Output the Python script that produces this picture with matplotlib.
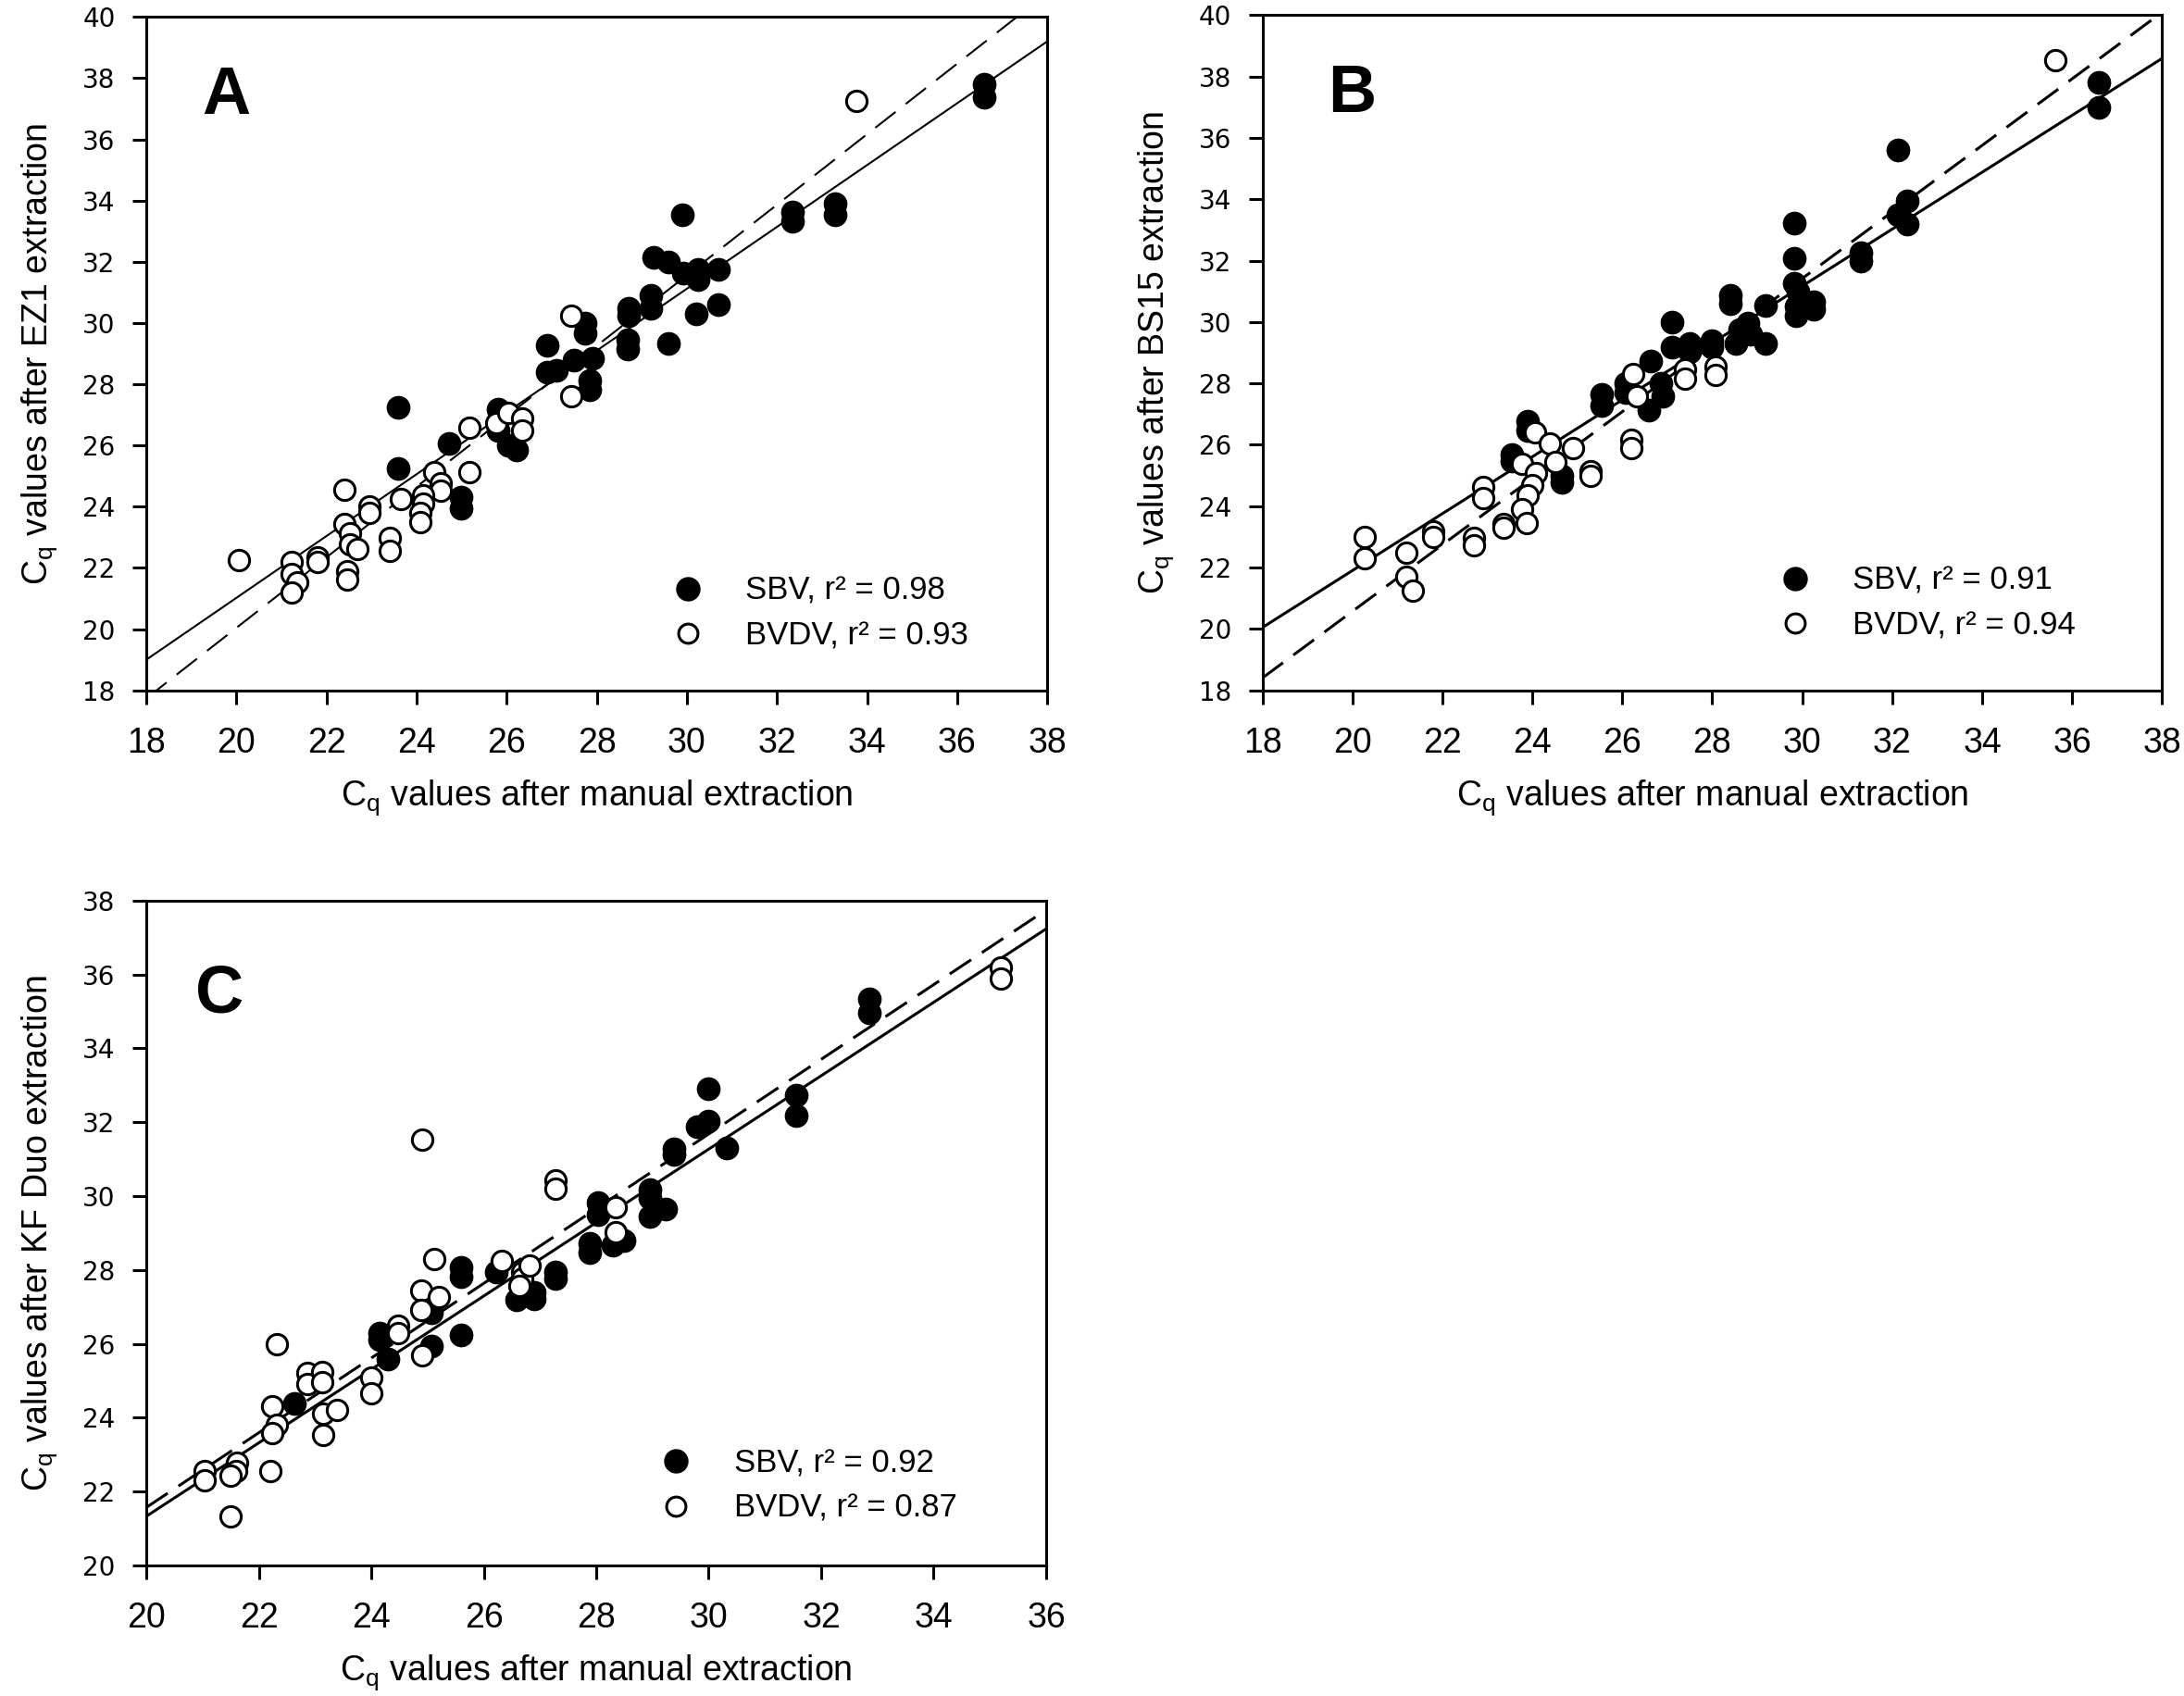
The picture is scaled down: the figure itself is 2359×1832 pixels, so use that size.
import numpy as np
import matplotlib
matplotlib.use("Agg")
import matplotlib.pyplot as plt
from matplotlib.lines import Line2D

plt.rcParams["font.family"] = ["Liberation Sans Narrow", "Liberation Sans", "DejaVu Sans"]
plt.rcParams["mathtext.default"] = "regular"

# ---- panel A: EZ1 ----
a_sbv_x = [36.6, 36.6, 29.9, 32.35, 32.35, 33.3, 33.3, 29.27, 29.6, 29.92, 30.25, 30.25,
           30.7, 29.2, 29.2, 28.7, 28.7, 30.7, 30.2, 29.6, 28.69, 28.69, 27.74, 27.74,
           26.9, 26.9, 27.1, 27.5, 27.9, 27.84, 27.84, 23.58, 23.58, 24.73, 24.99, 24.99,
           25.8, 25.8, 26.03, 26.22]
a_sbv_y = [37.8, 37.39, 33.55, 33.62, 33.33, 33.9, 33.55, 32.16, 32.0, 31.64, 31.74, 31.42,
           31.76, 30.9, 30.47, 30.47, 30.25, 30.6, 30.3, 29.33, 29.44, 29.15, 29.99, 29.66,
           29.27, 28.4, 28.46, 28.78, 28.86, 28.12, 27.83, 27.24, 25.26, 26.07, 24.31, 23.94,
           27.17, 26.5, 26.0, 25.85]
a_bvdv_x = [33.77, 27.43, 27.43, 25.77, 26.03, 26.35, 26.35, 25.18, 25.18, 24.4, 24.53, 24.53,
            24.14, 24.14, 24.08, 24.08, 23.65, 22.95, 22.95, 22.39, 22.39, 22.52, 22.52, 22.69,
            22.45, 22.45, 23.4, 23.4, 20.05, 21.22, 21.22, 21.35, 21.22, 21.8, 21.8]
a_bvdv_y = [37.26, 30.25, 27.6, 26.73, 27.05, 26.88, 26.5, 26.58, 25.12, 25.12, 24.75, 24.53,
            24.38, 24.09, 23.8, 23.5, 24.24, 24.0, 23.8, 24.56, 23.43, 23.14, 22.77, 22.62,
            21.89, 21.63, 22.99, 22.55, 22.26, 22.18, 21.8, 21.52, 21.19, 22.33, 22.2]

# ---- panel B: BS15 ----
b_sbv_x = [36.6, 36.6, 32.13, 32.33, 32.12, 32.33, 29.83, 29.83, 29.83, 29.9, 29.86, 29.86,
           30.25, 30.25, 31.3, 31.3, 28.4, 28.4, 29.18, 29.18, 28.8, 28.6, 28.53, 28.85,
           28.0, 28.0, 27.1, 27.1, 27.5, 27.5, 26.63, 26.85, 26.9, 26.6, 26.07, 26.07,
           25.55, 25.55, 23.9, 23.9, 23.55, 23.55, 24.65, 24.65]
b_sbv_y = [37.8, 36.99, 35.6, 33.94, 33.5, 33.2, 33.24, 32.08, 31.26, 31.0, 30.5, 30.2,
           30.67, 30.43, 32.26, 32.0, 30.87, 30.6, 30.54, 29.3, 29.98, 29.77, 29.3, 29.6,
           29.4, 29.18, 30.0, 29.18, 29.3, 29.03, 28.74, 28.0, 27.57, 27.13, 28.0, 27.7,
           27.64, 27.27, 26.76, 26.47, 25.69, 25.48, 25.0, 24.78]
b_bvdv_x = [35.63, 28.08, 28.08, 27.4, 27.4, 26.24, 26.33, 26.2, 26.2, 24.06, 24.39, 24.52,
            24.9, 25.3, 25.3, 23.77, 24.09, 24.0, 23.9, 23.77, 23.87, 23.37, 23.37, 22.9,
            22.9, 22.7, 22.7, 21.8, 21.8, 20.28, 20.28, 21.21, 21.19, 21.34]
b_bvdv_y = [38.53, 28.56, 28.27, 28.45, 28.15, 28.3, 27.57, 26.17, 25.88, 26.4, 26.03, 25.44,
            25.9, 25.15, 25.0, 25.37, 25.08, 24.7, 24.35, 23.9, 23.46, 23.43, 23.3, 24.63,
            24.27, 22.98, 22.73, 23.17, 23.0, 23.0, 22.29, 22.47, 21.7, 21.26]

# ---- panel C: KF Duo ----
c_sbv_x = [32.86, 32.86, 30.0, 29.8, 30.0, 31.56, 31.56, 30.32, 29.38, 29.38, 28.95, 28.95,
           28.95, 29.23, 28.03, 28.03, 27.88, 27.88, 28.29, 28.5, 27.27, 27.27, 26.58, 26.89,
           26.89, 26.23, 25.59, 25.59, 25.59, 25.07, 25.07, 24.14, 24.14, 24.29, 22.63]
c_sbv_y = [35.33, 34.97, 32.9, 31.88, 32.02, 32.73, 32.18, 31.31, 31.27, 31.13, 30.18, 29.94,
           29.45, 29.64, 29.82, 29.5, 28.73, 28.48, 28.67, 28.79, 27.94, 27.78, 27.18, 27.21,
           27.4, 27.94, 28.06, 27.82, 26.24, 26.85, 25.94, 26.3, 26.12, 25.58, 24.39]
c_bvdv_x = [35.2, 35.2, 24.91, 27.27, 27.27, 28.34, 28.34, 26.32, 26.68, 26.68, 26.82, 26.63,
            25.12, 24.89, 24.89, 25.2, 24.48, 24.48, 24.91, 24.0, 24.0, 22.32, 22.87, 22.87,
            23.13, 23.13, 23.15, 23.39, 23.15, 22.24, 22.32, 22.24, 22.21, 21.62, 21.59, 21.49,
            21.04, 21.04, 21.49]
c_bvdv_y = [36.18, 35.9, 31.54, 30.42, 30.2, 29.7, 29.03, 28.24, 27.94, 27.76, 28.12, 27.58,
            28.3, 27.45, 26.91, 27.27, 26.48, 26.3, 25.7, 25.09, 24.67, 25.98, 25.21, 24.9,
            25.24, 24.97, 24.12, 24.2, 23.52, 24.3, 23.82, 23.58, 22.55, 22.79, 22.55, 22.42,
            22.55, 22.3, 21.33]

# regression lines (slope, intercept): solid, dashed
a_lines = [(1.01, 0.82), (1.152, -3.0)]
b_lines = [(0.9275, 3.35), (1.085, -1.13)]
c_lines = [(0.994, 1.45), (1.011, 1.35)]

a_r2 = ["0.98", "0.93"]
b_r2 = ["0.91", "0.94"]
c_r2 = ["0.92", "0.87"]

ylimits = {"A": (18, 40), "B": (18, 40), "C": (20, 38)}

fig = plt.figure(figsize=(23.59, 18.32), dpi=100)


def panel(rect, letter, letter_pos, sx, sy, ox, oy, lines, r2, lims, ylabel, leg_xy, lw):
    ax = fig.add_axes(rect)
    x0, x1 = lims
    xs = np.array([x0, x1])
    (s1, i1), (s2, i2) = lines
    dash = 20.0 / lw
    ax.plot(xs, s1 * xs + i1, color="black", lw=lw, zorder=1)
    ax.plot(xs, s2 * xs + i2, color="black", lw=lw, ls=(0, (dash, dash / 2)), zorder=1)
    ax.plot(sx, sy, "o", ms=17, mfc="black", mec="black", mew=1.5, ls="none", zorder=2)
    ax.plot(ox, oy, "o", ms=16, mfc="white", mec="black", mew=2.2, ls="none", zorder=3)
    ax.set_xlim(x0, x1)
    ax.set_ylim(*ylimits[letter])
    ax.set_xticks(np.arange(x0, x1 + 0.1, 2))
    ax.set_yticks(np.arange(ylimits[letter][0], ylimits[letter][1] + 0.1, 2))
    ax.tick_params(direction="out", length=11, width=2.2, pad=18)
    ax.tick_params(axis="x", labelsize=27, pad=17)
    for lab in ax.get_yticklabels():
        lab.set_fontfamily("DejaVu Sans")
        lab.set_fontsize(20)
    ax.tick_params(axis="y", pad=13)
    for s in ax.spines.values():
        s.set_linewidth(2.2)
    ax.set_xlabel("C$_q$ values after manual extraction", fontsize=27, labelpad=14)
    ax.set_ylabel(ylabel, fontsize=27, labelpad=18)
    ax.text(letter_pos[0], letter_pos[1], letter, transform=ax.transAxes,
            fontsize=52, fontweight="bold", family=["Liberation Sans", "DejaVu Sans"],
            ha="left", va="baseline")
    handles = [Line2D([], [], marker="o", ls="none", ms=18, mfc="black", mec="black"),
               Line2D([], [], marker="o", ls="none", ms=15, mfc="white", mec="black", mew=2.2)]
    labels = [f"SBV, r² = {r2[0]}", f"BVDV, r² = {r2[1]}"]
    ax.legend(handles, labels, loc="lower left", bbox_to_anchor=leg_xy, frameon=False,
              prop={"family": ["Liberation Sans", "DejaVu Sans"], "size": 25},
              handletextpad=1.3, labelspacing=0.45, borderpad=0, borderaxespad=0,
              handlelength=1.0)
    return ax


panel([0.067, 0.593, 0.4125, 0.397], "A", (0.062, 0.856), a_sbv_x, a_sbv_y, a_bvdv_x, a_bvdv_y,
      a_lines, a_r2, (18, 38), "C$_q$ values after EZ1 extraction", (0.583, 0.058), 1.5)
panel([0.578, 0.593, 0.412, 0.398], "B", (0.073, 0.856), b_sbv_x, b_sbv_y, b_bvdv_x, b_bvdv_y,
      b_lines, b_r2, (18, 38), "C$_q$ values after BS15 extraction", (0.574, 0.073), 2.2)
panel([0.067, 0.077, 0.412, 0.392], "C", (0.054, 0.832), c_sbv_x, c_sbv_y, c_bvdv_x, c_bvdv_y,
      c_lines, c_r2, (20, 36), "C$_q$ values after KF Duo extraction", (0.571, 0.063), 2.2)

fig.savefig("out.png", dpi=100)
